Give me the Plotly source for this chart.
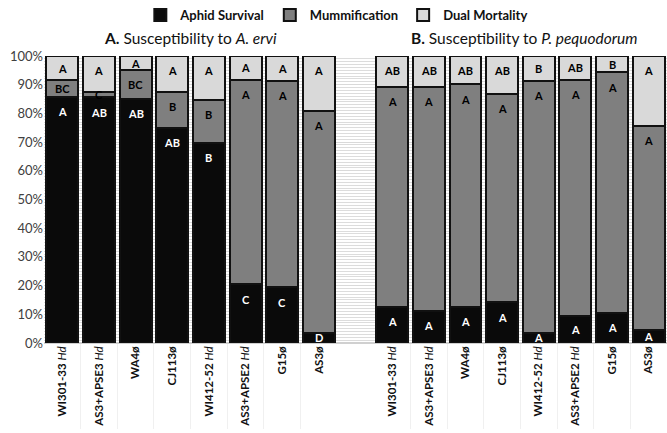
import plotly.graph_objects as go

strains = ["WI301-33", "AS3+APSE3", "WA4", "CJ113", "WI412-52", "AS3+APSE2", "G15", "AS3"]
suffix = ["Hd", "Hd", "ø", "ø", "Hd", "Hd", "ø", "ø"]

# Panel A: A. ervi
a_surv = [85.8, 85.6, 85.0, 75.0, 69.7, 20.5, 19.4, 3.5]
a_mumm = [5.8, 2.0, 10.1, 12.5, 15.0, 71.2, 71.9, 77.4]
a_dual = [8.4, 12.4, 4.9, 12.5, 15.3, 8.3, 8.7, 19.1]
a_surv_lab = ["A", "AB", "AB", "AB", "B", "C", "C", "D"]
a_mumm_lab = ["BC", "C", "BC", "B", "B", "A", "A", "A"]
a_dual_lab = ["A", "A", "A", "A", "A", "A", "A", "A"]

# Panel B: P. pequodorum
b_surv = [12.6, 11.3, 12.6, 14.2, 3.5, 9.4, 10.5, 4.7]
b_mumm = [76.7, 77.9, 77.5, 72.7, 87.8, 82.3, 83.8, 70.9]
b_dual = [10.7, 10.8, 9.9, 13.1, 8.7, 8.3, 5.7, 24.4]
b_surv_lab = ["A", "A", "A", "A", "A", "A", "A", "A"]
b_mumm_lab = ["A", "A", "A", "A", "A", "A", "A", "A"]
b_dual_lab = ["AB", "AB", "AB", "AB", "B", "AB", "B", "A"]

series_names = ["Aphid Survival", "Mummification", "Dual Mortality"]
colors = ["#0a0a0a", "#7f7f7f", "#d9d9d9"]
text_colors = ["white", "black", "black"]

xa = list(range(0, 8))
xb = list(range(9, 17))
xs = xa + xb

surv = a_surv + b_surv
mumm = a_mumm + b_mumm
dual = a_dual + b_dual
labs = [a_surv_lab + b_surv_lab, a_mumm_lab + b_mumm_lab, a_dual_lab + b_dual_lab]
vals = [surv, mumm, dual]

FONT = "Lato"

fig = go.Figure()
for i, name in enumerate(series_names):
    fig.add_trace(go.Bar(
        x=xs, y=vals[i], name=name,
        marker=dict(color=colors[i], line=dict(color="#111111", width=2)),
        hoverinfo="skip",
    ))

annotations = []
for i in range(3):
    for j, x in enumerate(xs):
        base = sum(vals[k][j] for k in range(i))
        top = base + vals[i][j]
        seg = vals[i][j]
        ypos = top - min(5.2, seg / 2)
        annotations.append(dict(
            x=x, y=ypos, xref="x", yref="y", text="<b>%s</b>" % labs[i][j],
            showarrow=False, font=dict(family=FONT, size=11, color=text_colors[i]),
            yanchor="middle", xanchor="center",
        ))

annotations.append(dict(x=3.5, y=1.063, xref="x", yref="paper",
                        text="<b>A.</b> Susceptibility to <i>A. ervi</i>",
                        showarrow=False, font=dict(family=FONT, size=15.5, color="#111111"),
                        yanchor="middle"))
annotations.append(dict(x=12.6, y=1.063, xref="x", yref="paper",
                        text="<b>B.</b> Susceptibility to <i>P. pequodorum</i>",
                        showarrow=False, font=dict(family=FONT, size=15.5, color="#111111"),
                        yanchor="middle"))

ticktext = []
for s, suf in zip(strains, suffix):
    if suf == "Hd":
        ticktext.append("<b>%s</b> <i>Hd</i>" % s)
    else:
        ticktext.append("<b>%s%s</b>" % (s, suf))
ticktext = ticktext + ticktext

fig.update_layout(
    barmode="stack",
    bargap=0.13,
    width=667, height=433,
    margin=dict(l=44, r=0, t=56, b=90),
    plot_bgcolor="white", paper_bgcolor="white",
    font=dict(family=FONT, color="#222222"),
    showlegend=True,
    legend=dict(orientation="h", x=0.505, xref="container", xanchor="center",
                y=1.0, yref="container", yanchor="top",
                font=dict(family=FONT, size=13, color="#111111", weight="bold"),
                traceorder="normal"),
    annotations=annotations,
    xaxis=dict(
        automargin=False,
        range=[-0.5, 16.5], tickmode="array", tickvals=xs, ticktext=ticktext,
        tickangle=-90, tickfont=dict(family=FONT, size=11.5, color="#111111"),
        showgrid=False, zeroline=False, showline=False, ticks="",
        minor=dict(tickmode="array", tickvals=[x + 0.5 for x in xa[:-1]] + [x + 0.5 for x in xb[:-1]],
                   ticks="outside", ticklen=85, tickcolor="#f0f0f0", tickwidth=1),
    ),
    yaxis=dict(
        automargin=False,
        range=[0, 100], tickvals=list(range(0, 101, 10)),
        ticktext=["%d%%" % v for v in range(0, 101, 10)],
        tickfont=dict(family=FONT, size=13, color="#404040"),
        showgrid=True, gridcolor="#d9d9d9", gridwidth=1,
        minor=dict(dtick=1, showgrid=True, gridcolor="#dcdcdc", gridwidth=1),
        zeroline=True, zerolinecolor="#d0d0d0", zerolinewidth=1.5,
        showline=False, ticks="",
    ),
)

fig.write_html("out.html", config={"displayModeBar": False},
               post_script="document.body.style.margin='0';")
